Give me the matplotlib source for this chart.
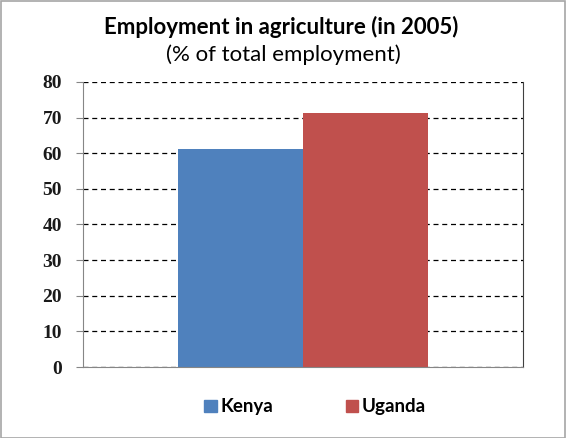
import matplotlib.pyplot as plt
from matplotlib.patches import Rectangle

countries = ["Kenya", "Uganda"]
values = [61.2, 71.3]
colors = ["#4f81bd", "#c0504d"]
yticks = [0, 10, 20, 30, 40, 50, 60, 70, 80]

fig = plt.figure(figsize=(5.66, 4.38), dpi=100)
fig.patches.append(Rectangle((0.001, 0.001), 0.997, 0.996, transform=fig.transFigure,
                             fill=False, edgecolor="#a6a6a6", linewidth=1.2))

ax = fig.add_axes([0.1466, 0.162, 0.7774, 0.651])

# one category, two bars side by side
offsets = [-1.0, 0.0]
for off, val, col in zip(offsets, values, colors):
    ax.bar(off, val, width=1.0, align="edge", color=col, zorder=2)

ax.set_xlim(-1.76, 1.76)
ax.set_ylim(0, 80)
ax.set_yticks(yticks)
ax.set_xticks([])
ax.yaxis.grid(True, linestyle=(0, (4, 3)), color="black", linewidth=0.9, zorder=1)
ax.set_axisbelow(True)

ax.spines["top"].set_visible(False)
ax.spines["left"].set_color("#868686")
ax.spines["bottom"].set_color("#868686")
ax.spines["right"].set_color("#404040")
ax.tick_params(axis="y", length=5, color="#868686", pad=10)
for lbl in ax.get_yticklabels():
    lbl.set_fontfamily("Liberation Serif")
    lbl.set_fontweight("bold")
    lbl.set_fontsize(14)
    lbl.set_color("#1a1a1a")

fig.text(0.497, 0.938, "Employment in agriculture (in 2005)", ha="center", va="center",
         fontsize=16, fontweight="bold", family="Lato")
fig.text(0.50, 0.874, "(% of total employment)", ha="center", va="center",
         fontsize=16, family="Lato")

handles = [Rectangle((0, 0), 1, 1, color=c) for c in colors]
fig.legend(handles, countries, loc="center", bbox_to_anchor=(0.557, 0.071), ncol=2,
           frameon=False, handlelength=0.65, handleheight=0.65, handletextpad=0.2,
           columnspacing=3.9, prop={"family": "Lato", "weight": "bold", "size": 13.5})

fig.savefig("out.png", dpi=100)
